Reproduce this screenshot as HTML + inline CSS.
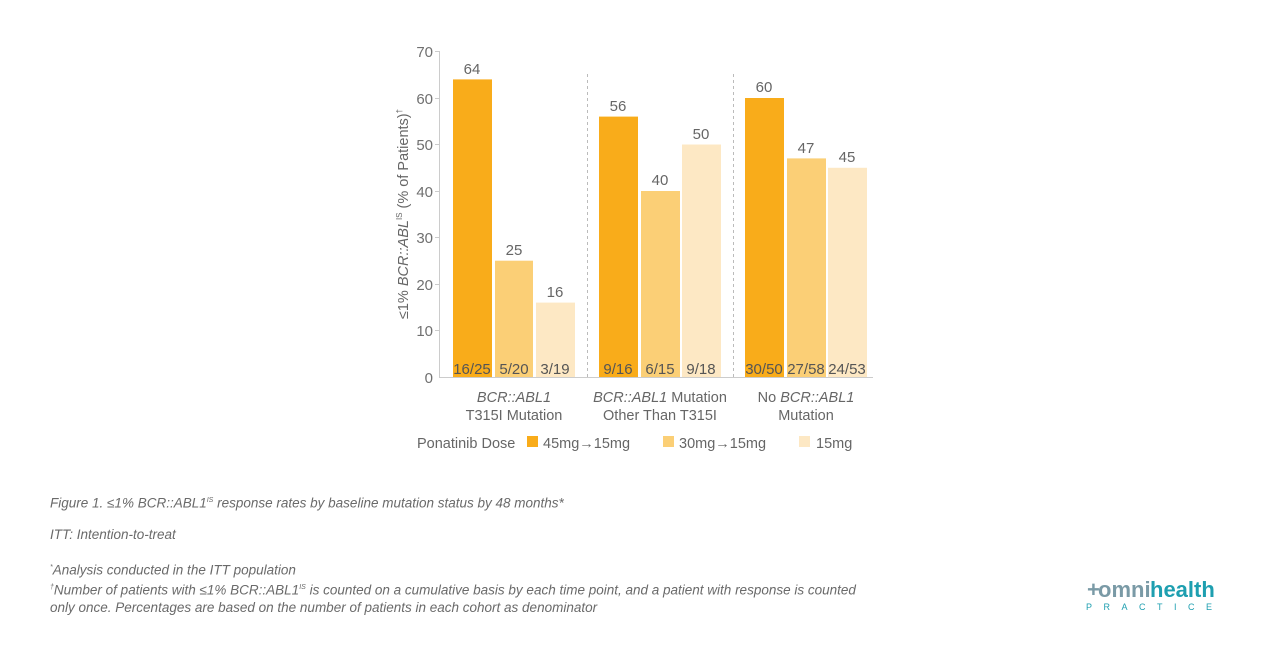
<!DOCTYPE html>
<html><head><meta charset="utf-8"><style>
body{margin:0;background:#fff;width:1266px;height:652px;overflow:hidden;font-family:"Liberation Sans",sans-serif}
svg text{font-family:"Liberation Sans",sans-serif}
.note{position:absolute;left:50px;font-size:13.5px;font-style:italic;color:#6a6a6a;line-height:17.5px}
</style></head><body>
<svg width="1266" height="652" style="position:absolute;left:0;top:0">
<g fill="#707070" font-size="15" text-anchor="end">
<text x="433" y="57">70</text><text x="433" y="104">60</text><text x="433" y="150">50</text><text x="433" y="197">40</text><text x="433" y="243">30</text><text x="433" y="290">20</text><text x="433" y="336">10</text><text x="433" y="383">0</text>
</g>
<g stroke="#ccc" stroke-width="1">
<line x1="439.5" y1="51" x2="439.5" y2="377"/>
<line x1="439" y1="377.5" x2="873" y2="377.5"/>
<line x1="435" y1="51.5" x2="439" y2="51.5"/><line x1="435" y1="98.5" x2="439" y2="98.5"/><line x1="435" y1="144.5" x2="439" y2="144.5"/><line x1="435" y1="191.5" x2="439" y2="191.5"/><line x1="435" y1="237.5" x2="439" y2="237.5"/><line x1="435" y1="284.5" x2="439" y2="284.5"/><line x1="435" y1="330.5" x2="439" y2="330.5"/>
</g>
<g stroke="#bbb" stroke-dasharray="3,3"><line x1="587.5" y1="74" x2="587.5" y2="377"/><line x1="733.5" y1="74" x2="733.5" y2="377"/></g>
<g>
<rect x="453" y="79.4" width="39" height="297.6" fill="#F9AC1A"/>
<rect x="495" y="260.7" width="38" height="116.3" fill="#FBCF76"/>
<rect x="536" y="302.6" width="39" height="74.4" fill="#FDE8C4"/>
<rect x="599" y="116.6" width="39" height="260.4" fill="#F9AC1A"/>
<rect x="641" y="191" width="39" height="186" fill="#FBCF76"/>
<rect x="682" y="144.5" width="39" height="232.5" fill="#FDE8C4"/>
<rect x="745" y="98" width="39" height="279" fill="#F9AC1A"/>
<rect x="787" y="158.4" width="39" height="218.6" fill="#FBCF76"/>
<rect x="828" y="167.8" width="39" height="209.2" fill="#FDE8C4"/>
</g>
<g fill="#666" font-size="15" text-anchor="middle">
<text x="472" y="74">64</text><text x="514" y="255">25</text><text x="555" y="297">16</text>
<text x="618" y="111">56</text><text x="660" y="185">40</text><text x="701" y="139">50</text>
<text x="764" y="92">60</text><text x="806" y="153">47</text><text x="847" y="162">45</text>
</g>
<g fill="#555" font-size="15" text-anchor="middle">
<text x="472" y="374">16/25</text><text x="514" y="374">5/20</text><text x="555" y="374">3/19</text>
<text x="618" y="374">9/16</text><text x="660" y="374">6/15</text><text x="701" y="374">9/18</text>
<text x="764" y="374">30/50</text><text x="806" y="374">27/58</text><text x="847" y="374">24/53</text>
</g>
<g fill="#666" font-size="14.5" text-anchor="middle">
<text x="514" y="402" font-style="italic">BCR::ABL1</text><text x="514" y="420">T315I Mutation</text>
<text x="660" y="402"><tspan font-style="italic">BCR::ABL1</tspan> Mutation</text><text x="660" y="420">Other Than T315I</text>
<text x="806" y="402">No <tspan font-style="italic">BCR::ABL1</tspan></text><text x="806" y="420">Mutation</text>
</g>
<text transform="translate(408,214) rotate(-90)" fill="#666" font-size="14.5" text-anchor="middle">≤1% <tspan font-style="italic">BCR::ABL</tspan><tspan font-size="8" dy="-6">IS</tspan><tspan dy="6"> (% of Patients)</tspan><tspan font-size="8" dy="-6">†</tspan></text>
<g fill="#666" font-size="14.5">
<text x="417" y="448">Ponatinib Dose</text>
<rect x="527" y="436" width="11" height="11" fill="#F9AC1A"/><text x="543" y="448">45mg→15mg</text>
<rect x="663" y="436" width="11" height="11" fill="#FBCF76"/><text x="679" y="448">30mg→15mg</text>
<rect x="799" y="436" width="11" height="11" fill="#FDE8C4"/><text x="816" y="448">15mg</text>
</g>
<g font-size="22" font-weight="bold">
<text x="1087" y="597" fill="#7a9aa6">+</text>
<text x="1098" y="597" fill="#7a9aa6">omni</text><text x="1150" y="597" fill="#1e9fb0">health</text>
</g>
<text x="1086" y="610" fill="#1e9fb0" font-size="9" letter-spacing="11.5">PRACTICE</text>
</svg>
<div class="note" style="top:492px">Figure 1. ≤1% BCR::ABL1<sup style="font-size:7px">IS</sup> response rates by baseline mutation status by 48 months*</div>
<div class="note" style="top:526px">ITT: Intention-to-treat</div>
<div class="note" style="top:559px"><sup style="font-size:7px">*</sup>Analysis conducted in the ITT population<br><sup style="font-size:7px">†</sup>Number of patients with ≤1% BCR::ABL1<sup style="font-size:7px">IS</sup> is counted on a cumulative basis by each time point, and a patient with response is counted<br>only once. Percentages are based on the number of patients in each cohort as denominator</div>
</body></html>
